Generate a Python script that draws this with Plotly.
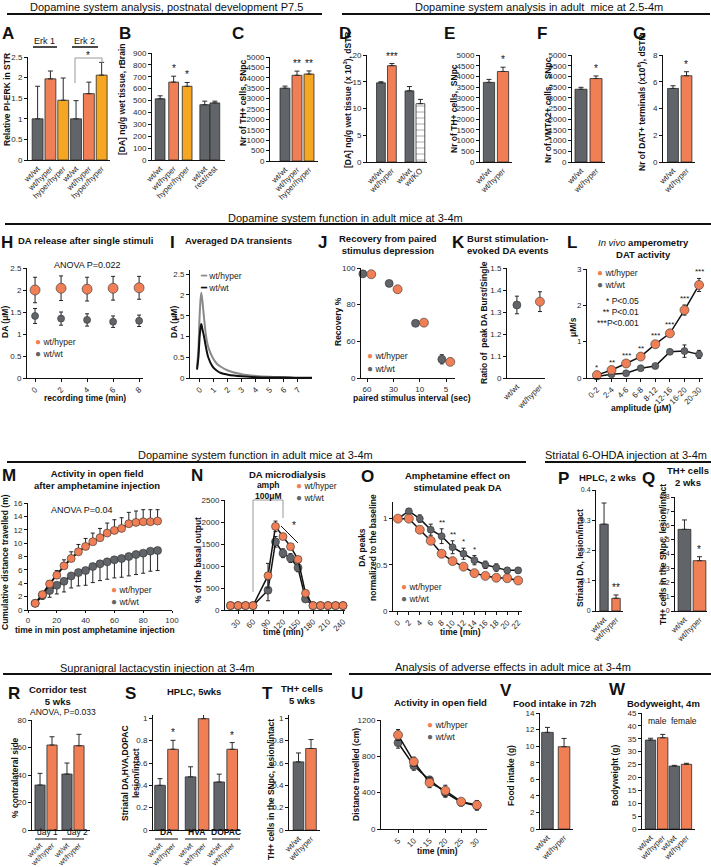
import plotly.graph_objects as go

W, H = 711, 867
FONT = "Liberation Sans, Arial, Helvetica, sans-serif"
GRAY = "#616468"
ORANGE = "#F07F55"
YELLOW = "#F5A623"
EDGE = "#2a2a2a"
LGRAY = "#8a8a8a"

# ---------------- data ----------------
a_labels = ["wt/wt", "wt/hyper", "hyper/hyper", "wt/wt", "wt/hyper", "hyper/hyper"]
a_values = [1.0, 1.97, 1.45, 1.0, 1.61, 2.06]
a_errors = [0.79, 0.19, 0.54, 0.44, 0.28, 0.31]

b_labels = ["wt/wt", "wt/hyper", "hyper/hyper", "wt/wt", "rest/rest"]
b_values = [515, 655, 620, 465, 480]
b_errors = [25, 50, 32, 30, 15]
b_stars = ["", "*", "*", "", ""]

c_labels = ["wt/wt", "wt/hyper", "hyper/hyper"]
c_values = [3500, 4120, 4180]
c_errors = [100, 200, 150]
c_stars = ["", "**", "**"]

d_labels = ["wt/wt", "wt/hyper", "wt/wt", "wt/KO"]
d_values = [14.8, 18.0, 13.3, 10.9]
d_errors = [0.2, 0.4, 0.8, 0.8]
d_stars = ["", "***", "", ""]

pair_labels = ["wt/wt", "wt/hyper"]
e_values = [3720, 4230]
e_errors = [140, 200]
f_values = [3400, 3900]
f_errors = [90, 120]
g_values = [5.5, 6.45]
g_errors = [0.2, 0.3]
single_star = ["", "*"]

h_time = [0, 2, 4, 6, 8]
h_hyper = [2.0, 2.04, 2.02, 2.04, 2.05]
h_hyper_err = [0.29, 0.28, 0.27, 0.27, 0.26]
h_wt = [1.41, 1.35, 1.32, 1.28, 1.3]
h_wt_err = [0.17, 0.15, 0.14, 0.13, 0.13]

i_time = [-0.2, -0.1, 0.0, 0.1, 0.2, 0.3, 0.45, 0.6, 0.9, 1.2, 1.5, 2.0, 3.0, 4.0, 5.0, 6.0, 7.0, 8.0]
i_hyper = [0.25, 0.7, 1.6, 2.05, 1.8, 1.45, 1.0, 0.75, 0.5, 0.35, 0.27, 0.18, 0.09, 0.05, 0.03, 0.02, 0.01, 0.01]
i_wt = [0.2, 0.5, 1.05, 1.3, 1.15, 1.0, 0.72, 0.5, 0.28, 0.18, 0.12, 0.08, 0.04, 0.02, 0.01, 0.01, 0.0, 0.0]

j_labels = ["60", "30", "10", "5"]
j_hyper = [96.6, 88.4, 70.2, 48.8]
j_hyper_err = [1.0, 1.0, 1.0, 1.5]
j_wt = [96.8, 91.6, 69.8, 50.2]
j_wt_err = [1.5, 1.5, 1.5, 2.5]

k_values = [1.332, 1.347]
k_errors = [0.04, 0.045]

l_labels = ["0-2", "2-4", "4-6", "6-8", "8-12", "12-16", "16-20", "20-30"]
l_hyper = [0.08, 0.22, 0.4, 0.59, 0.93, 1.23, 1.87, 2.56]
l_hyper_err = [0.03, 0.04, 0.04, 0.05, 0.05, 0.06, 0.14, 0.18]
l_wt = [0.04, 0.1, 0.13, 0.27, 0.33, 0.72, 0.74, 0.65]
l_wt_err = [0.02, 0.03, 0.03, 0.04, 0.05, 0.06, 0.17, 0.11]
l_stars = ["*", "**", "***", "**", "***", "***", "***", "***"]

m_time = [5, 10, 15, 20, 25, 30, 35, 40, 45, 50, 55, 60, 65, 70, 75, 80, 85, 90]
m_hyper = [1.0, 2.3, 3.9, 5.2, 6.6, 7.7, 8.7, 9.5, 10.2, 10.8, 11.5, 11.9, 12.2, 12.9, 13.1, 13.2, 13.2, 13.3]
m_hyper_err = [0.2, 0.3, 0.5, 0.7, 0.9, 1.0, 1.1, 1.2, 1.3, 1.4, 1.5, 1.6, 1.6, 1.7, 1.7, 1.8, 1.8, 1.7]
m_wt = [1.0, 2.2, 2.9, 3.7, 4.3, 5.1, 5.6, 5.9, 6.5, 6.9, 7.2, 7.5, 7.7, 8.0, 8.3, 8.5, 8.8, 8.9]
m_wt_err = [0.3, 0.6, 1.0, 1.3, 1.6, 1.8, 2.0, 2.2, 2.4, 2.5, 2.6, 2.7, 2.8, 2.9, 3.0, 3.0, 3.0, 3.0]

n_time = [15, 30, 45, 60, 90, 105, 120, 135, 150, 165, 180, 195, 210, 225, 240]
n_hyper = [100, 100, 100, 100, 780, 1900, 1670, 1440, 1150, 380, 100, 100, 100, 100, 100]
n_hyper_err = [20, 20, 20, 20, 280, 120, 60, 60, 60, 60, 20, 20, 20, 20, 20]
n_wt = [100, 100, 100, 100, 450, 1550, 1290, 1180, 960, 250, 100, 100, 100, 100, 100]
n_wt_err = [20, 20, 20, 20, 240, 120, 100, 100, 90, 60, 20, 20, 20, 20, 20]

o_time = [0, 2, 4, 6, 8, 10, 12, 14, 16, 18, 20, 22]
o_hyper = [1.0, 1.0, 0.88, 0.76, 0.62, 0.54, 0.48, 0.41, 0.38, 0.36, 0.355, 0.33]
o_hyper_err = [0.01, 0.01, 0.01, 0.01, 0.01, 0.01, 0.01, 0.01, 0.01, 0.01, 0.01, 0.02]
o_wt = [1.0, 1.08, 1.0, 0.88, 0.81, 0.69, 0.62, 0.55, 0.5, 0.47, 0.44, 0.44]
o_wt_err = [0.02, 0.03, 0.04, 0.06, 0.08, 0.07, 0.06, 0.05, 0.04, 0.04, 0.03, 0.03]
o_stars = ["", "", "", "", "**", "**", "*", "*", "", "", "", ""]

p_values = [0.287, 0.042]
p_errors = [0.07, 0.011]
p_stars = ["", "**"]
q_values = [0.573, 0.353]
q_errors = [0.066, 0.028]

r_labels = ["wt/wt", "wt/hyper", "wt/wt", "wt/hyper"]
r_values = [32.7, 61.8, 40.7, 61.3]
r_errors = [8.5, 6.0, 8.0, 8.3]

s_labels = ["wt/wt", "wt/hyper", "wt/wt", "wt/hyper", "wt/wt", "wt/hyper"]
s_values = [0.4, 0.723, 0.476, 0.997, 0.43, 0.723]
s_errors = [0.06, 0.08, 0.09, 0.04, 0.07, 0.06]
s_stars = ["", "*", "", "*", "", "*"]

t_values = [0.61, 0.73]
t_errors = [0.08, 0.08]

u_time = [5, 10, 15, 20, 25, 30]
u_hyper = [1035, 741, 510, 422, 301, 264]
u_hyper_err = [60, 50, 55, 60, 30, 50]
u_wt = [950, 697, 540, 400, 294, 257]
u_wt_err = [60, 50, 40, 50, 40, 50]

v_values = [11.66, 9.93]
v_errors = [0.6, 1.0]

w_labels = ["wt/wt", "wt/hyper", "wt/wt", "wt/hyper"]
w_values = [34.5, 35.4, 24.4, 25.1]
w_errors = [0.7, 1.3, 0.3, 0.4]

# ---------------- helpers ----------------
fig = go.Figure()
AX, ANN, SHP = {}, [], []
cnt = [0]


def new_axes(box, xr, yr, xkw=None, ykw=None):
    cnt[0] += 1
    sfx = "" if cnt[0] == 1 else str(cnt[0])
    x0, y0, x1, y1 = box
    base = dict(showline=True, linecolor="#111", linewidth=1, showgrid=False, zeroline=False,
                ticks="outside", ticklen=3, tickwidth=1, tickcolor="#111",
                tickfont=dict(size=8, color="#2a2a2a", family=FONT), fixedrange=True,
                automargin=False)
    xd = dict(base)
    xd.update(domain=[x0 / W, x1 / W], range=xr, anchor="y" + sfx)
    yd = dict(base)
    yd.update(domain=[1 - y1 / H, 1 - y0 / H], range=yr, anchor="x" + sfx)
    if xkw:
        xd.update(xkw)
    if ykw:
        yd.update(ykw)
    AX["xaxis" + sfx] = xd
    AX["yaxis" + sfx] = yd
    return "x" + sfx, "y" + sfx


def txt(x, y, s, size=9, bold=False, xa="center", ya="middle", color="#111", angle=0, align="center"):
    if bold:
        s = "<b>" + s + "</b>"
    ANN.append(dict(x=x / W, y=1 - y / H, xref="paper", yref="paper", text=s, showarrow=False,
                    xanchor=xa, yanchor=ya, textangle=angle, align=align,
                    font=dict(size=size, color=color, family=FONT)))


def line(x0, y0, x1, y1, color="#111", width=1):
    SHP.append(dict(type="line", xref="paper", yref="paper", x0=x0 / W, y0=1 - y0 / H,
                    x1=x1 / W, y1=1 - y1 / H, line=dict(color=color, width=width)))


def star(xr_, yr_, x, y, s, size=10):
    ANN.append(dict(x=x, y=y, xref=xr_, yref=yr_, text=s, showarrow=False, yanchor="bottom",
                    xanchor="center", font=dict(size=size, color="#111", family=FONT)))


def ytitle(x, y, s, size=8.5):
    txt(x, y, s, size=size, bold=True, angle=-90)


def letter(x, y, s):
    txt(x, y, s, size=17, bold=True)


def legend(x, y, items, dy=12, size=8.5):
    for k, (sym, col, lab) in enumerate(items):
        ANN.append(dict(x=x / W, y=1 - (y + k * dy) / H, xref="paper", yref="paper",
                        xanchor="left", yanchor="middle", showarrow=False, borderpad=0,
                        text='<span style="color:%s;font-size:10px">%s</span> %s' % (col, sym, lab),
                        font=dict(size=size, color="#222", family=FONT)))


def bar_panel(box, xr, yr, pos, labels, vals, errs, colors, ytick, width=0.8, stars=None,
              pattern=None, xkw=None, ykw=None):
    xk = dict(tickmode="array", tickvals=pos, ticktext=labels, tickangle=-45, ticks="")
    if xkw:
        xk.update(xkw)
    if isinstance(ytick, list):
        yk = dict(tickmode="array", tickvals=ytick)
    else:
        yk = dict(dtick=ytick, tick0=0)
    if ykw:
        yk.update(ykw)
    xr_, yr_ = new_axes(box, xr, yr, xk, yk)
    marker = dict(color=colors, line=dict(color=EDGE, width=0.8))
    if pattern:
        marker["pattern"] = pattern
    fig.add_trace(go.Bar(x=pos, y=vals, width=width, marker=marker,
                         error_y=dict(type="data", symmetric=False, array=errs,
                                      arrayminus=[0] * len(errs), color=EDGE, thickness=1, width=2.5),
                         xaxis=xr_, yaxis=yr_, showlegend=False, hoverinfo="skip"))
    if stars:
        for p, v, e, s in zip(pos, vals, errs, stars):
            if s:
                star(xr_, yr_, p, v + e, s)
    return xr_, yr_


def series(xr_, yr_, x, y, ep, em, color, size, lcol=None, lw=1.5, shape="linear"):
    if lcol:
        fig.add_trace(go.Scatter(x=x, y=y, mode="lines", line=dict(color=lcol, width=lw, shape=shape),
                                 xaxis=xr_, yaxis=yr_, showlegend=False, hoverinfo="skip",
                                 cliponaxis=False))
    if color:
        fig.add_trace(go.Scatter(x=x, y=y, mode="markers",
                                 marker=dict(color=color, size=size, line=dict(color="#333", width=0.6)),
                                 error_y=dict(type="data", symmetric=False, array=ep, arrayminus=em,
                                              color="#222", thickness=1, width=2),
                                 xaxis=xr_, yaxis=yr_, showlegend=False, hoverinfo="skip",
                                 cliponaxis=False))


def zeros(v):
    return [0] * len(v)


# ---------------- row 1 ----------------
txt(166, 7, "Dopamine system analysis, postnatal development P7.5", size=11)
line(7, 14, 322, 14, width=2)
txt(539, 7, "Dopamine system analysis in adult  mice at 2.5-4m", size=11)
line(342, 14, 710, 14, width=2)

# A
letter(8, 33, "A")
bar_panel((28, 57, 110, 160), [-0.75, 5.65], [0, 2.5], [0, 1, 2, 3, 4, 5], a_labels, a_values, a_errors,
          [GRAY, ORANGE, YELLOW, GRAY, ORANGE, YELLOW], 0.5, width=0.85)
txt(44, 41, "Erk 1", size=9)
line(33, 47, 57, 47, width=1.5)
txt(84, 41, "Erk 2", size=9)
line(72, 47, 98, 47, width=1.5)
line(75, 83, 75, 58, color="#999")
line(75, 58, 102, 58, color="#999")
line(102, 58, 102, 63, color="#999")
txt(88, 55, "*", size=10)
ytitle(7, 100, "Relative PI-ERK in STR")

# B
letter(125, 33, "B")
bar_panel((152, 53, 225, 160), [-0.6, 4.8], [0, 900], [0, 1, 2, 3.3, 4.05], b_labels, b_values, b_errors,
          [GRAY, ORANGE, YELLOW, GRAY, GRAY], 100, width=0.72, stars=b_stars)
ytitle(122, 100, "[DA] ng/g wet tissue, rBrain")

# C
letter(238, 33, "C")
bar_panel((270, 57, 318, 161), [-1.25, 2.75], [0, 5000], [0, 1, 2], c_labels, c_values, c_errors,
          [GRAY, ORANGE, YELLOW], 500, width=0.83, stars=c_stars)
ytitle(243, 103, "Nr of TH+ cells, SNpc")

# D
letter(345, 33, "D")
bar_panel((367, 55, 427, 162), [-1.27, 4.2], [0, 20], [0, 1, 2.6, 3.6], d_labels, d_values, d_errors,
          [GRAY, ORANGE, GRAY, "white"], 5, width=0.8, stars=d_stars,
          pattern=dict(shape=["", "", "", "-"], fgcolor="#333", size=6, solidity=0.15, fillmode="overlay"))
ytitle(347, 100, "[DA] ng/g wet tissue (x 10<sup>3</sup>), dSTR")

# E
letter(449, 33, "E")
bar_panel((480, 55, 512, 162), [-0.64, 1.64], [0, 5000], [0, 1], pair_labels, e_values, e_errors,
          [GRAY, ORANGE], 500, width=0.8, stars=single_star)
ytitle(454, 109, "Nr of TH+ cells,  SNpc")

# F
letter(542, 33, "F")
bar_panel((572, 55, 605, 162), [-0.6, 1.6], [0, 5000], [0, 1], pair_labels, f_values, f_errors,
          [GRAY, ORANGE], 500, width=0.8, stars=single_star)
ytitle(548, 110, "Nr of VMTA2+ cells,  SNpc")

# G
letter(639, 33, "G")
bar_panel((663, 55, 695, 162), [-0.74, 1.63], [0, 8], [0, 1], pair_labels, g_values, g_errors,
          [GRAY, ORANGE], 2, width=0.8, stars=single_star)
ytitle(642, 103, "Nr of DAT+ terminals (x10<sup>6</sup>), dSTR")

# ---------------- row 2 ----------------
txt(345, 218, "Dopamine system function in adult mice at 3-4m", size=11)
line(5, 224, 711, 224, width=2)

# H
letter(7, 242, "H")
txt(16, 240, "DA release after single stimuli", size=9.5, bold=True, xa="left")
xr_, yr_ = new_axes((27, 268, 143, 378), [-0.62, 8.3], [0, 2.5],
                    dict(tickmode="array", tickvals=h_time, tickangle=-45), dict(dtick=0.5, tick0=0))
series(xr_, yr_, h_time, h_wt, h_wt_err, h_wt_err, GRAY, 7)
series(xr_, yr_, h_time, h_hyper, h_hyper_err, h_hyper_err, ORANGE, 10)
txt(87, 265, "ANOVA P=0.022", size=9)
legend(34, 341, [("●", ORANGE, "wt/hyper"), ("●", GRAY, "wt/wt")], dy=12)
txt(85, 398, "recording time (min)", size=8.5, bold=True)
ytitle(5, 322, "DA (μM)")

# I
letter(172, 242, "I")
txt(183, 240, "Averaged DA transients", size=9.5, bold=True, xa="left")
xr_, yr_ = new_axes((190, 270, 312, 378), [-0.7, 8.0], [0, 2.6],
                    dict(tickmode="array", tickvals=[0, 1, 2, 3, 4, 5, 6, 7], tickangle=-45),
                    dict(tickmode="array", tickvals=[0, 0.5, 1, 1.5, 2, 2.5]))
series(xr_, yr_, i_time, i_hyper, None, None, None, 0, lcol=LGRAY, lw=2, shape="spline")
series(xr_, yr_, i_time, i_wt, None, None, None, 0, lcol="#111", lw=2, shape="spline")
legend(199, 275, [("━", LGRAY, "wt/hyper"), ("━", "#111", "wt/wt")], dy=12)
ytitle(174, 322, "DA (μM)")

# J
letter(322, 242, "J")
txt(388, 244, "Recovery from paired<br>stimulus depression", size=9.5, bold=True)
j_pos = [0, 1, 2, 3]
xr_, yr_ = new_axes((361, 268, 455, 378), [-0.23, 3.34], [40, 100],
                    dict(tickmode="array", tickvals=j_pos, ticktext=j_labels),
                    dict(tickmode="array", tickvals=[40, 60, 80, 100], ticktext=["0", "60", "80", "100"]))
series(xr_, yr_, [p - 0.16 for p in j_pos], j_wt, j_wt_err, j_wt_err, GRAY, 8)
series(xr_, yr_, [p + 0.16 for p in j_pos], j_hyper, j_hyper_err, j_hyper_err, ORANGE, 9)
legend(366, 356, [("●", ORANGE, "wt/hyper"), ("●", GRAY, "wt/wt")], dy=12)
txt(412, 398, "paired stimulus interval (sec)", size=8.5, bold=True)
ytitle(338, 322, "Recovery %")

# K
letter(458, 242, "K")
txt(508, 244, "Burst stimulation-<br>evoked DA events", size=9.5, bold=True)
xr_, yr_ = new_axes((507, 268, 545, 378), [-0.43, 1.22], [1.0, 1.5],
                    dict(tickmode="array", tickvals=[0, 1], ticktext=pair_labels, tickangle=-45, ticks=""),
                    dict(tickmode="array", tickvals=[1.0, 1.1, 1.2, 1.3, 1.4, 1.5],
                         ticktext=["0", "1.1", "1.2", "1.3", "1.4", "1.5"]))
series(xr_, yr_, [0], k_values[:1], k_errors[:1], k_errors[:1], GRAY, 8)
series(xr_, yr_, [1], k_values[1:], k_errors[1:], k_errors[1:], ORANGE, 9)
ytitle(484, 323, "Ratio of  peak DA Burst/Single")

# L
letter(572, 242, "L")
txt(643, 248, "<i>In vivo</i> <b>amperometry</b><br><b>DAT activity</b>", size=9.5)
l_pos = [0, 1, 2, 3, 4, 5, 6, 7]
xr_, yr_ = new_axes((587, 269, 703, 378), [-0.68, 7.27], [0, 3],
                    dict(tickmode="array", tickvals=l_pos, ticktext=l_labels, tickangle=-45),
                    dict(dtick=1, tick0=0))
series(xr_, yr_, l_pos, l_wt, l_wt_err, l_wt_err, GRAY, 7, lcol="#111")
series(xr_, yr_, l_pos, l_hyper, l_hyper_err, l_hyper_err, ORANGE, 9, lcol="#111")
for p, v, e, s in zip(l_pos, l_hyper, l_hyper_err, l_stars):
    star(xr_, yr_, p, v + e, s, size=8)
legend(596, 272, [("●", ORANGE, "wt/hyper"), ("●", GRAY, "wt/wt")], dy=12)
txt(641, 312, "* P&lt;0.05<br>** P&lt;0.01<br>***P&lt;0.001", size=8.5, xa="right", align="right")
txt(641, 408, "amplitude (μM)", size=8.5, bold=True)
ytitle(573, 327, "μM/s")

# ---------------- row 3 ----------------
txt(255, 455, "Dopamine system function in adult mice at 3-4m", size=11)
line(7, 462, 526, 462, width=2)
txt(626, 455, "Striatal 6-OHDA injection at 3-4m", size=11)
line(545, 462, 711, 462, width=2)

# M
letter(9, 475, "M")
txt(97, 479, "Activity in open field<br>after amphetamine injection", size=9.5, bold=True)
xr_, yr_ = new_axes((28, 503, 172, 610), [0, 100], [0, 16],
                    dict(tickmode="array", tickvals=[0, 20, 40, 60, 80, 100], ticklen=2),
                    dict(dtick=2, tick0=0))
series(xr_, yr_, m_time, m_wt, zeros(m_wt), m_wt_err, GRAY, 8, lcol="#111", lw=2)
series(xr_, yr_, m_time, m_hyper, m_hyper_err, zeros(m_hyper), ORANGE, 8, lcol="#111", lw=2)
txt(82, 510, "ANOVA P=0.04", size=9)
legend(110, 589, [("●", ORANGE, "wt/hyper"), ("●", GRAY, "wt/wt")], dy=12)
txt(95, 630, "time in min post amphetamine injection", size=8.5, bold=True)
ytitle(5, 562, "Cumulative distance travelled (m)")

# N
letter(197, 475, "N")
txt(247, 474, "DA microdialysis", size=9.5, bold=True, xa="left")
xr_, yr_ = new_axes((225, 500, 345, 610), [4, 244], [0, 2500],
                    dict(tickmode="array", tickvals=[30, 60, 90, 120, 150, 180, 210, 240], tickangle=-45),
                    dict(dtick=500, tick0=0))
series(xr_, yr_, n_time, n_wt, n_wt_err, n_wt_err, GRAY, 8, lcol="#111")
series(xr_, yr_, n_time, n_hyper, n_hyper_err, n_hyper_err, ORANGE, 8, lcol="#111")
line(253, 592, 253, 500, color="#999")
line(253, 500, 283, 500, color="#999")
line(283, 500, 283, 518, color="#999")
txt(268, 490, "amph<br>100μM", size=8.5, bold=True)
line(281, 526, 298, 543, color="#111")
txt(294, 525, "*", size=10)
legend(295, 485, [("●", ORANGE, "wt/hyper"), ("●", GRAY, "wt/wt")], dy=12)
txt(283, 632, "time (min)", size=8.5, bold=True)
ytitle(198, 560, "% of the basal output")

# O
letter(367, 476, "O")
txt(457, 481, "Amphetamine effect on<br>stimulated peak DA", size=9.5, bold=True)
xr_, yr_ = new_axes((393, 502, 522, 611), [-0.9, 22.7], [0, 1.18],
                    dict(tickmode="array", tickvals=o_time, tickangle=-45),
                    dict(tickmode="array", tickvals=[0, 0.5, 1]))
series(xr_, yr_, o_time, o_wt, o_wt_err, o_wt_err, GRAY, 7, lcol="#111")
series(xr_, yr_, o_time, o_hyper, o_hyper_err, o_hyper_err, ORANGE, 9, lcol="#111")
for p, v, e, s in zip(o_time, o_wt, o_wt_err, o_stars):
    if s:
        star(xr_, yr_, p, v + e, s, size=8)
legend(400, 586, [("●", ORANGE, "wt/hyper"), ("●", GRAY, "wt/wt")], dy=12)
txt(460, 632, "time (min)", size=8.5, bold=True)
ytitle(367, 548, "DA peaks<br>normalized to the baseline")

# P
letter(563, 478, "P")
txt(577, 477, "HPLC, 2 wks", size=9.5, bold=True, xa="left")
bar_panel((596, 490, 623, 611), [-0.67, 1.58], [0, 0.4], [0, 1], pair_labels, p_values, p_errors,
          [GRAY, ORANGE], 0.1, width=0.7, stars=p_stars, ykw=dict(tickfont=dict(size=7, color="#2a2a2a")))
ytitle(580, 558, "Striatal DA, lesion/intact")

# Q
letter(648, 478, "Q")
txt(688, 476, "TH+ cells<br>2 wks", size=9.5, bold=True)
bar_panel((675, 497, 707, 611), [-0.63, 1.5], [0, 0.8], [0, 1], pair_labels, q_values, q_errors,
          [GRAY, ORANGE], 0.1, width=0.85, stars=single_star,
          ykw=dict(tickfont=dict(size=7, color="#2a2a2a")))
ytitle(663, 555, "TH+ cells in the SNpc, lesion/intact")

# ---------------- row 4 ----------------
txt(157, 668, "Supranigral lactacystin injection at 3-4m", size=11)
line(3, 674, 332, 674, width=2)
txt(513, 667, "Analysis of adverse effects in adult mice at 3-4m", size=11)
line(349, 674, 711, 674, width=2)

small_x = dict(ticklabelstandoff=7, tickfont=dict(size=7.5, color="#2a2a2a", family=FONT))

# R
letter(14, 693, "R")
txt(58, 695, "Corridor test<br>5 wks", size=9.5, bold=True)
bar_panel((32, 720, 90, 830), [-0.67, 4.17], [0, 80], [0, 1, 2.25, 3.25], r_labels, r_values, r_errors,
          [GRAY, ORANGE, GRAY, ORANGE], 20, width=0.85, xkw=small_x)
txt(63, 712, "ANOVA, P=0.033", size=8.5)
txt(47, 838.5, "day 1", size=8.5, ya="bottom")
line(35, 839, 57, 839)
txt(77, 838.5, "day 2", size=8.5, ya="bottom")
line(62, 839, 84, 839)
ytitle(15, 778, "% contralateral side")

# S
letter(130, 693, "S")
txt(194, 691, "HPLC, 5wks", size=9.5, bold=True)
bar_panel((153, 715, 240, 830), [-0.54, 6.15], [0, 1.03], [0, 1, 2.35, 3.35, 4.55, 5.55], s_labels,
          s_values, s_errors, [GRAY, ORANGE, GRAY, ORANGE, GRAY, ORANGE], [0, 0.2, 0.4, 0.6, 0.8, 1],
          width=0.82, stars=s_stars, xkw=small_x)
txt(166, 838.5, "DA", size=8.5, bold=True, ya="bottom")
line(155, 839, 178, 839)
txt(196, 838.5, "HVA", size=8.5, bold=True, ya="bottom")
line(185, 839, 207, 839)
txt(226, 838.5, "DOPAC", size=8.5, bold=True, ya="bottom")
line(212, 839, 240, 839)
ytitle(130, 773, "Striatal DA,HVA,DOPAC<br>lesion/intact")

# T
letter(267, 693, "T")
txt(302, 694, "TH+ cells<br>5 wks", size=9.5, bold=True)
bar_panel((289, 715, 320, 830), [-0.76, 1.72], [0, 1.03], [0, 1], pair_labels, t_values, t_errors,
          [GRAY, ORANGE], [0, 0.2, 0.4, 0.6, 0.8, 1], width=0.85)
ytitle(271, 790, "TH+ cells in the SNpc, lesion/intact")

# U
letter(357, 693, "U")
txt(440, 702, "Activity in open field", size=9.5, bold=True)
xr_, yr_ = new_axes((381, 720, 487, 829), [-0.4, 33.2], [0, 1200],
                    dict(tickmode="array", tickvals=u_time, tickangle=-45),
                    dict(tickmode="array", tickvals=[0, 400, 800, 1200]))
series(xr_, yr_, u_time, u_wt, u_wt_err, u_wt_err, GRAY, 8, lcol="#111")
series(xr_, yr_, u_time, u_hyper, u_hyper_err, u_hyper_err, ORANGE, 9, lcol="#111")
legend(426, 724, [("●", ORANGE, "wt/hyper"), ("●", GRAY, "wt/wt")], dy=12)
txt(437, 851, "time (min)", size=8.5, bold=True)
ytitle(356, 775, "Distance travelled (cm)")

# V
letter(506, 690, "V")
txt(555, 703, "Food intake in 72h", size=9.5, bold=True)
bar_panel((540, 713, 573, 829), [-0.45, 1.54], [0, 14], [0, 1], pair_labels, v_values, v_errors,
          [GRAY, ORANGE], 2, width=0.7)
ytitle(511, 775, "Food intake (g)")

# W
letter(617, 689, "W")
txt(663, 703, "Bodyweight, 4m", size=9.5, bold=True)
bar_panel((642, 713, 695, 829), [-0.7, 3.65], [0, 45], [0, 1, 1.95, 2.95], w_labels, w_values, w_errors,
          [GRAY, ORANGE, GRAY, ORANGE], 5, width=0.85)
txt(657, 721, "male", size=8.5)
txt(684, 721, "female", size=8.5)
ytitle(615, 775, "Bodyweight (g)")

fig.update_layout(
    template="none",
    width=W, height=H, autosize=False,
    margin=dict(l=0, r=0, t=0, b=0),
    paper_bgcolor="white", plot_bgcolor="rgba(0,0,0,0)",
    showlegend=False,
    font=dict(family=FONT, size=9, color="#111"),
    bargap=0,
    annotations=ANN, shapes=SHP,
    **AX,
)
fig.write_html("out.html", config={"displayModeBar": False, "staticPlot": True},
               post_script="document.body.style.margin='0px';document.body.style.overflow='hidden';")
